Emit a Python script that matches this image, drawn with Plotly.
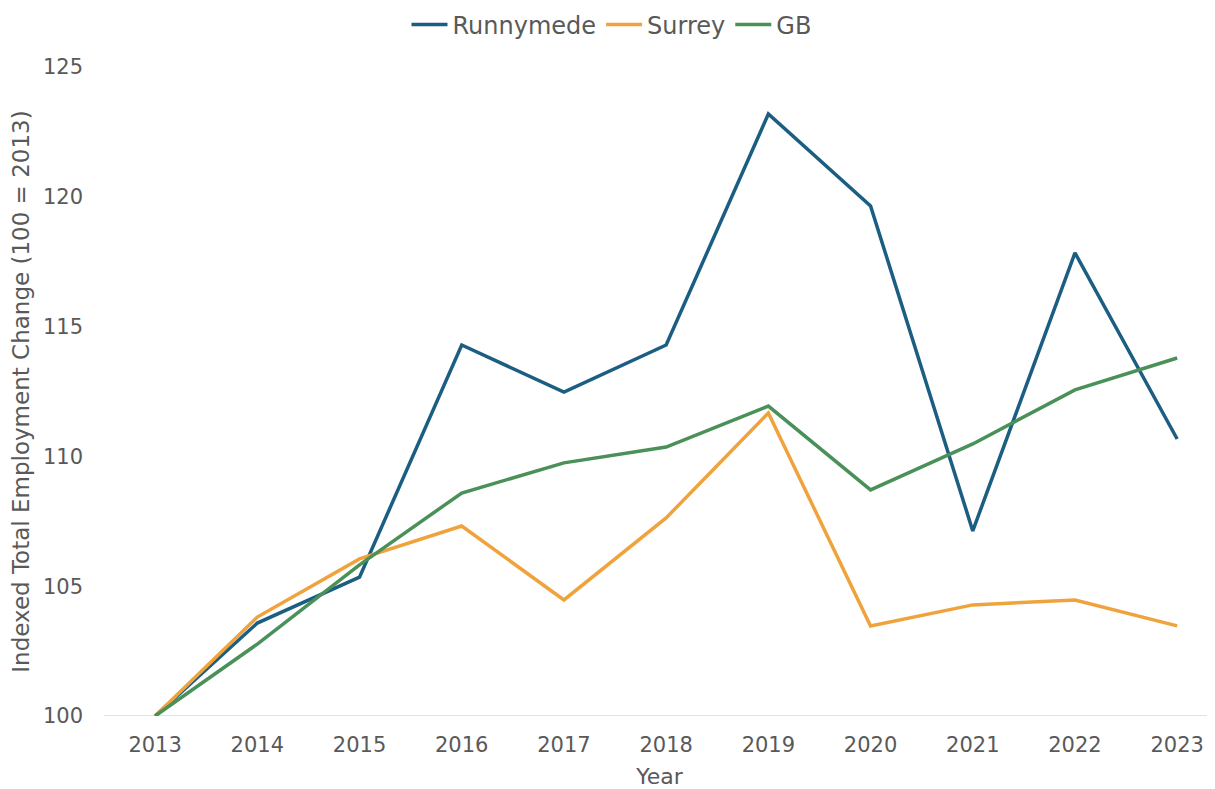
import plotly.graph_objects as go

years = [2013, 2014, 2015, 2016, 2017, 2018, 2019, 2020, 2021, 2022, 2023]
runnymede = [100, 103.58, 105.35, 114.29, 112.48, 114.29, 123.19, 119.65, 107.13, 117.84, 110.67]
surrey = [100, 103.81, 106.05, 107.32, 104.47, 107.63, 111.67, 103.47, 104.28, 104.47, 103.47]
gb = [100, 102.77, 105.82, 108.59, 109.75, 110.36, 111.94, 108.71, 110.48, 112.56, 113.79]

series = [("Runnymede", runnymede, "#1B5E82"), ("Surrey", surrey, "#F0A33C"), ("GB", gb, "#4A9059")]

fig = go.Figure()
for name, vals, col in series:
    fig.add_trace(go.Scatter(x=years, y=vals, name=name, mode="lines",
                             line=dict(color=col, width=3.5)))

font = "DejaVu Sans"
fig.update_layout(
    width=1207, height=781,
    margin=dict(l=96, r=0, t=59, b=73),
    plot_bgcolor="white", paper_bgcolor="white",
    font=dict(family=font, size=21, color="#595959"),
    showlegend=True,
    legend=dict(orientation="h", x=0.5, xref="container", xanchor="center",
                y=1 - 17 / 781, yref="container", yanchor="middle",
                font=dict(size=24, color="#595959"), itemwidth=36, traceorder="normal"),
    xaxis=dict(range=[2012.5, 2023.37], tickmode="array", tickvals=years,
               ticktext=[str(y) for y in years], showgrid=False, zeroline=False,
               showline=False, ticks="", tickfont=dict(size=21), automargin=False,
               ticklabelstandoff=14,
               title=dict(text="Year", font=dict(size=22), standoff=21)),
    yaxis=dict(range=[100, 125], tickvals=[100, 105, 110, 115, 120, 125], showgrid=False,
               zeroline=False, showline=False, ticks="", tickfont=dict(size=21), automargin=False,
               ticklabelstandoff=20,
               title=dict(text="Indexed Total Employment Change (100 = 2013)", font=dict(size=23), standoff=8)),
)
fig.add_shape(type="line", xref="paper", yref="y", x0=0, x1=1, y0=100, y1=100,
              line=dict(color="#D9D9D9", width=1.5), layer="below")
fig.write_html("out.html")
